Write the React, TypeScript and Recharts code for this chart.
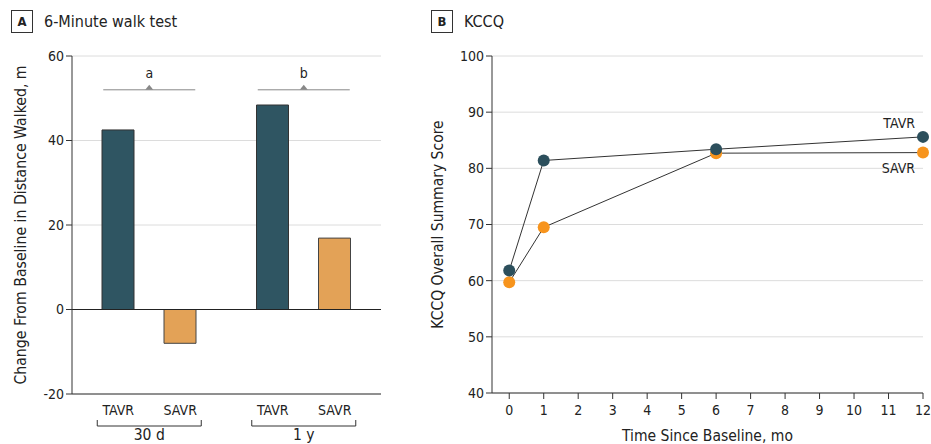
import React from "react";
import {
  BarChart,
  Bar,
  LineChart,
  Line,
  XAxis,
  YAxis,
  CartesianGrid,
  ReferenceLine,
  ReferenceDot,
  LabelList,
} from "recharts";

// panel A - 6 minute walk test
const groups = ["30 d", "1 y"];
const tavrWalk = [42.5, 48.4];
const savrWalk = [-8, 16.9];
const walkTicks = [-20, 0, 20, 40, 60];
const sigLabels = ["a", "b"];
const sigLevel = 52;

// panel B - KCCQ
const months = [0, 1, 6, 12];
const tavrKccq = [61.8, 81.4, 83.4, 85.6];
const savrKccq = [59.7, 69.5, 82.7, 82.8];
const kccqTicks = [40, 50, 60, 70, 80, 90, 100];
const monthTicks = [0, 1, 2, 3, 4, 5, 6, 7, 8, 9, 10, 11, 12];

const FONT = "'DejaVu Sans Condensed', 'DejaVu Sans', sans-serif";
const TEXT = "#222";
const TAVR_BAR = "#2f5562";
const SAVR_BAR = "#e3a257";
const TAVR_DOT = "#2c4f5c";
const SAVR_DOT = "#f7941d";

const walkData = groups.map((g, i) => ({ group: g, TAVR: tavrWalk[i], SAVR: savrWalk[i] }));
const kccqData = months.map((m, i) => ({ month: m, TAVR: tavrKccq[i], SAVR: savrKccq[i] }));

function GroupTick(props: any) {
  const { x, y, payload } = props;
  return (
    <g fontFamily={FONT} fill={TEXT}>
      <text x={x - 31} y={y + 13} textAnchor="middle" fontSize={14}>TAVR</text>
      <text x={x + 31} y={y + 13} textAnchor="middle" fontSize={14}>SAVR</text>
      <path
        d={`M${x - 52},${y + 18} L${x - 52},${y + 24} L${x + 52},${y + 24} L${x + 52},${y + 18}`}
        stroke="#333"
        fill="none"
      />
      <text x={x} y={y + 38} textAnchor="middle" fontSize={15.5}>{payload.value}</text>
    </g>
  );
}

function SigMark(label: string) {
  return (props: any) => {
    const { cx, cy } = props;
    return (
      <g>
        <line x1={cx - 46} x2={cx + 46} y1={cy} y2={cy} stroke="#888" strokeWidth={1} />
        <path d={`M${cx - 4},${cy} L${cx},${cy - 5} L${cx + 4},${cy} Z`} fill="#888" />
        <text x={cx} y={cy - 12} textAnchor="middle" fontSize={14} fontFamily={FONT} fill={TEXT}>
          {label}
        </text>
      </g>
    );
  };
}

function EndLabel(name: string, dy: number) {
  return (props: any) => {
    const { x, y, index } = props;
    if (index !== months.length - 1) return null;
    return (
      <text x={x - 8} y={y + dy} textAnchor="end" fontSize={14} fontFamily={FONT} fill={TEXT}>
        {name}
      </text>
    );
  };
}

function TitleBox({ left, letter, title }: { left: number; letter: string; title: string }) {
  return (
    <div style={{ position: "absolute", left, top: 10, display: "flex", alignItems: "center", fontFamily: FONT, color: TEXT }}>
      <div
        style={{
          width: 20,
          height: 21,
          border: "1px solid #333",
          display: "flex",
          alignItems: "center",
          justifyContent: "center",
          fontWeight: "bold",
          fontSize: 13,
        }}
      >
        {letter}
      </div>
      <span style={{ marginLeft: 11, fontSize: 16 }}>{title}</span>
    </div>
  );
}

const tickStyle = { fontSize: 14, fontFamily: FONT, fill: TEXT };

export default function App() {
  return (
    <div style={{ position: "fixed", left: 0, top: 0, width: 931, height: 444, background: "#fff" }}>
      <TitleBox left={11} letter="A" title="6-Minute walk test" />
      <TitleBox left={431} letter="B" title="KCCQ" />

      {/* A */}
      <div style={{ position: "absolute", left: 0, top: 0 }}>
        <BarChart
          width={400}
          height={444}
          data={walkData}
          margin={{ top: 56, right: 19, bottom: 0, left: 0 }}
          barSize={32}
          barGap={30}
        >
          <CartesianGrid vertical={false} stroke="#dcdcdc" />
          <XAxis
            dataKey="group"
            height={50}
            axisLine={{ stroke: "#333" }}
            tickLine={false}
            tick={<GroupTick />}
            interval={0}
          />
          <YAxis
            width={72}
            domain={[-20, 60]}
            ticks={walkTicks}
            axisLine={{ stroke: "#333" }}
            tickLine={{ stroke: "#333" }}
            tickSize={6}
            tick={tickStyle}
            label={{
              value: "Change From Baseline in Distance Walked, m",
              angle: -90,
              position: "insideLeft",
              dx: 15,
              dy: 0,
              style: { textAnchor: "middle", fontSize: 15.7, fontFamily: FONT, fill: TEXT },
            }}
          />
          <Bar dataKey="TAVR" fill={TAVR_BAR} stroke="#333" isAnimationActive={false} />
          <Bar dataKey="SAVR" fill={SAVR_BAR} stroke="#444" isAnimationActive={false} />
          <ReferenceLine y={0} stroke="#222" />
          {groups.map((g, i) => (
            <ReferenceDot key={g} x={g} y={sigLevel} shape={SigMark(sigLabels[i])} />
          ))}
        </BarChart>
      </div>

      {/* B */}
      <div style={{ position: "absolute", left: 420, top: 0 }}>
        <LineChart
          width={511}
          height={444}
          data={kccqData}
          margin={{ top: 56, right: 8, bottom: 0, left: 0 }}
        >
          <CartesianGrid vertical={false} stroke="#dcdcdc" />
          <XAxis
            dataKey="month"
            type="number"
            domain={[-0.5, 12]}
            ticks={monthTicks}
            height={51}
            axisLine={{ stroke: "#333" }}
            tickLine={{ stroke: "#333" }}
            tickSize={6}
            tickMargin={6}
            tick={tickStyle}
            label={{
              value: "Time Since Baseline, mo",
              position: "insideBottom",
              offset: 3,
              style: { fontSize: 15.5, fontFamily: FONT, fill: TEXT },
            }}
          />
          <YAxis
            width={72}
            domain={[40, 100]}
            ticks={kccqTicks}
            axisLine={{ stroke: "#333" }}
            tickLine={{ stroke: "#333" }}
            tickSize={6}
            tick={tickStyle}
            label={{
              value: "KCCQ Overall Summary Score",
              angle: -90,
              position: "insideLeft",
              dx: 12,
              style: { textAnchor: "middle", fontSize: 15.5, fontFamily: FONT, fill: TEXT },
            }}
          />
          <Line
            dataKey="SAVR"
            stroke="#333"
            strokeWidth={1}
            dot={{ r: 6, fill: SAVR_DOT, stroke: "none" }}
            isAnimationActive={false}
          >
            <LabelList content={EndLabel("SAVR", 20)} />
          </Line>
          <Line
            dataKey="TAVR"
            stroke="#333"
            strokeWidth={1}
            dot={{ r: 6, fill: TAVR_DOT, stroke: "none" }}
            isAnimationActive={false}
          >
            <LabelList content={EndLabel("TAVR", -9)} />
          </Line>
        </LineChart>
      </div>
    </div>
  );
}
